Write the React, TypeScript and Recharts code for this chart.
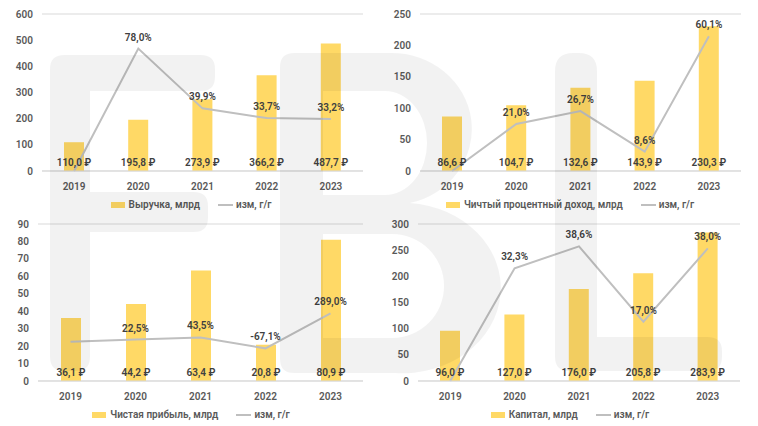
import {
  ComposedChart,
  Bar,
  Line,
  XAxis,
  YAxis,
  CartesianGrid,
  Legend,
  LabelList,
} from 'recharts';

const years = ['2019', '2020', '2021', '2022', '2023'];

const revenue = [110.0, 195.8, 273.9, 366.2, 487.7];
const revenueYoy = [0, 78.0, 39.9, 33.7, 33.2];

const netInterest = [86.6, 104.7, 132.6, 143.9, 230.3];
const netInterestYoy = [0, 21.0, 26.7, 8.6, 60.1];

const netProfit = [36.1, 44.2, 63.4, 20.8, 80.9];
const netProfitYoy = [0, 22.5, 43.5, -67.1, 289.0];

const capital = [96.0, 127.0, 176.0, 205.8, 283.9];
const capitalYoy = [0, 32.3, 38.6, 17.0, 38.0];

const BAR = '#FFD966';
const LINE = '#BFBFBF';
const FONT = 'Roboto, "Liberation Sans", sans-serif';

const tickStyle = { fontFamily: FONT, fontSize: 10, fontWeight: 600, fill: '#595959' };
const labelStyle = { fontFamily: FONT, fontSize: 10, fontWeight: 600, fill: '#404040' };

const fmt = (v: number) => v.toFixed(1).replace('.', ',');

function buildRows(values: number[], yoy: number[]) {
  return years.map((year, i) => ({
    year,
    value: values[i],
    valueLabel: `${fmt(values[i])} ₽`,
    yoy: yoy[i],
    // the first year has no change label
    yoyLabel: i === 0 ? '' : `${fmt(yoy[i])}%`,
  }));
}

// plain <text> so the label is not wrapped to the bar width
function BarValueLabel(props: any) {
  const { x, y, width, height, value } = props;
  return (
    <text x={x + width / 2} y={y + height - 5} textAnchor="middle" style={labelStyle}>
      {value}
    </text>
  );
}

function LegendBox({ name }: { name: string }) {
  return (
    <div
      style={{
        display: 'flex',
        justifyContent: 'center',
        alignItems: 'center',
        paddingTop: 6,
        fontFamily: FONT,
        fontSize: 10,
        fontWeight: 600,
        color: '#595959',
      }}
    >
      <span style={{ width: 14, height: 6, background: BAR, display: 'inline-block' }} />
      <span style={{ marginLeft: 4 }}>{name}</span>
      <span style={{ width: 15, height: 2, background: LINE, display: 'inline-block', marginLeft: 18 }} />
      <span style={{ marginLeft: 3 }}>изм, г/г</span>
    </div>
  );
}

interface PanelProps {
  values: number[];
  yoy: number[];
  name: string;
  yMax: number;
  yStep: number;
  yoyDomain: [number, number];
  left: number;
  top: number;
  axisWidth: number;
  plotRight: number;
}

function Panel({ values, yoy, name, yMax, yStep, yoyDomain, left, top, axisWidth, plotRight }: PanelProps) {
  const rows = buildRows(values, yoy);
  const ticks: number[] = [];
  for (let t = 0; t <= yMax; t += yStep) ticks.push(t);

  return (
    <div style={{ position: 'absolute', left, top }}>
      <ComposedChart
        width={379}
        height={211}
        data={rows}
        margin={{ top: 14, right: 379 - plotRight, bottom: 0, left: 0 }}
        barSize={20}
      >
        <CartesianGrid vertical={false} stroke="#D9D9D9" />
        <XAxis
          dataKey="year"
          tickLine={false}
          axisLine={{ stroke: '#D9D9D9' }}
          tick={tickStyle}
          tickMargin={6}
          height={22}
        />
        <YAxis
          yAxisId="left"
          domain={[0, yMax]}
          ticks={ticks}
          width={axisWidth}
          tickLine={false}
          axisLine={false}
          tickSize={0}
          tickMargin={9}
          tick={tickStyle}
        />
        <YAxis yAxisId="right" orientation="right" domain={yoyDomain} hide />
        <Legend
          verticalAlign="bottom"
          height={18}
          wrapperStyle={{ left: 0, width: 382 }}
          content={() => <LegendBox name={name} />}
        />
        <Bar yAxisId="left" dataKey="value" fill={BAR} isAnimationActive={false}>
          <LabelList dataKey="valueLabel" content={BarValueLabel} />
        </Bar>
        <Line
          yAxisId="right"
          dataKey="yoy"
          stroke={LINE}
          strokeWidth={2}
          dot={false}
          isAnimationActive={false}
        >
          <LabelList dataKey="yoyLabel" position="top" offset={8} style={labelStyle} />
        </Line>
      </ComposedChart>
    </div>
  );
}

function rr(x: number, y: number, w: number, h: number, r: number) {
  return `M${x + r},${y} H${x + w - r} Q${x + w},${y} ${x + w},${y + r} V${y + h - r} Q${x + w},${y + h} ${x + w - r},${y + h} H${x + r} Q${x},${y + h} ${x},${y + h - r} V${y + r} Q${x},${y} ${x + r},${y} Z`;
}

function Watermark() {
  const fill = 'rgba(0,0,0,0.05)';
  const f = rr(50, 55, 40, 316, 14) + rr(50, 55, 165, 36, 14) + rr(50, 192, 158, 40, 14);
  const b =
    'M294,53 H390 A80,76 0 0 1 410,203 A98,85 0 0 1 395,373 H294 Q280,373 280,359 V67 Q280,53 294,53 Z ' +
    'M323,91 H385 A42,52 0 0 1 385,195 H323 Z ' +
    'M323,234 H392 A52,52 0 0 1 392,338 H323 Z';
  const l = rr(555, 53, 42, 318, 18) + rr(555, 337, 167, 34, 14);
  return (
    <svg
      width={758}
      height={426}
      style={{ position: 'absolute', left: 0, top: 0, pointerEvents: 'none' }}
    >
      <path d={f} fill={fill} />
      <path d={b} fill={fill} fillRule="evenodd" />
      <path d={l} fill={fill} />
    </svg>
  );
}

export default function App() {
  return (
    <div style={{ position: 'absolute', left: 0, top: 0, width: 758, height: 426, background: '#fff' }}>
      <Panel
        values={revenue}
        yoy={revenueYoy}
        name="Выручка, млрд"
        yMax={600}
        yStep={100}
        yoyDomain={[0, 100]}
        left={0}
        top={0}
        axisWidth={42}
        plotRight={363}
      />
      <Panel
        values={netInterest}
        yoy={netInterestYoy}
        name="Чичтый процентный доход, млрд"
        yMax={250}
        yStep={50}
        yoyDomain={[0, 70]}
        left={379}
        top={0}
        axisWidth={41}
        plotRight={362}
      />
      <Panel
        values={netProfit}
        yoy={netProfitYoy}
        name="Чистая прибыль, млрд"
        yMax={90}
        yStep={10}
        yoyDomain={[-400, 1200]}
        left={0}
        top={210}
        axisWidth={38}
        plotRight={363}
      />
      <Panel
        values={capital}
        yoy={capitalYoy}
        name="Капитал, млрд"
        yMax={300}
        yStep={50}
        yoyDomain={[0, 45]}
        left={379}
        top={210}
        axisWidth={39}
        plotRight={361}
      />
      <Watermark />
    </div>
  );
}
